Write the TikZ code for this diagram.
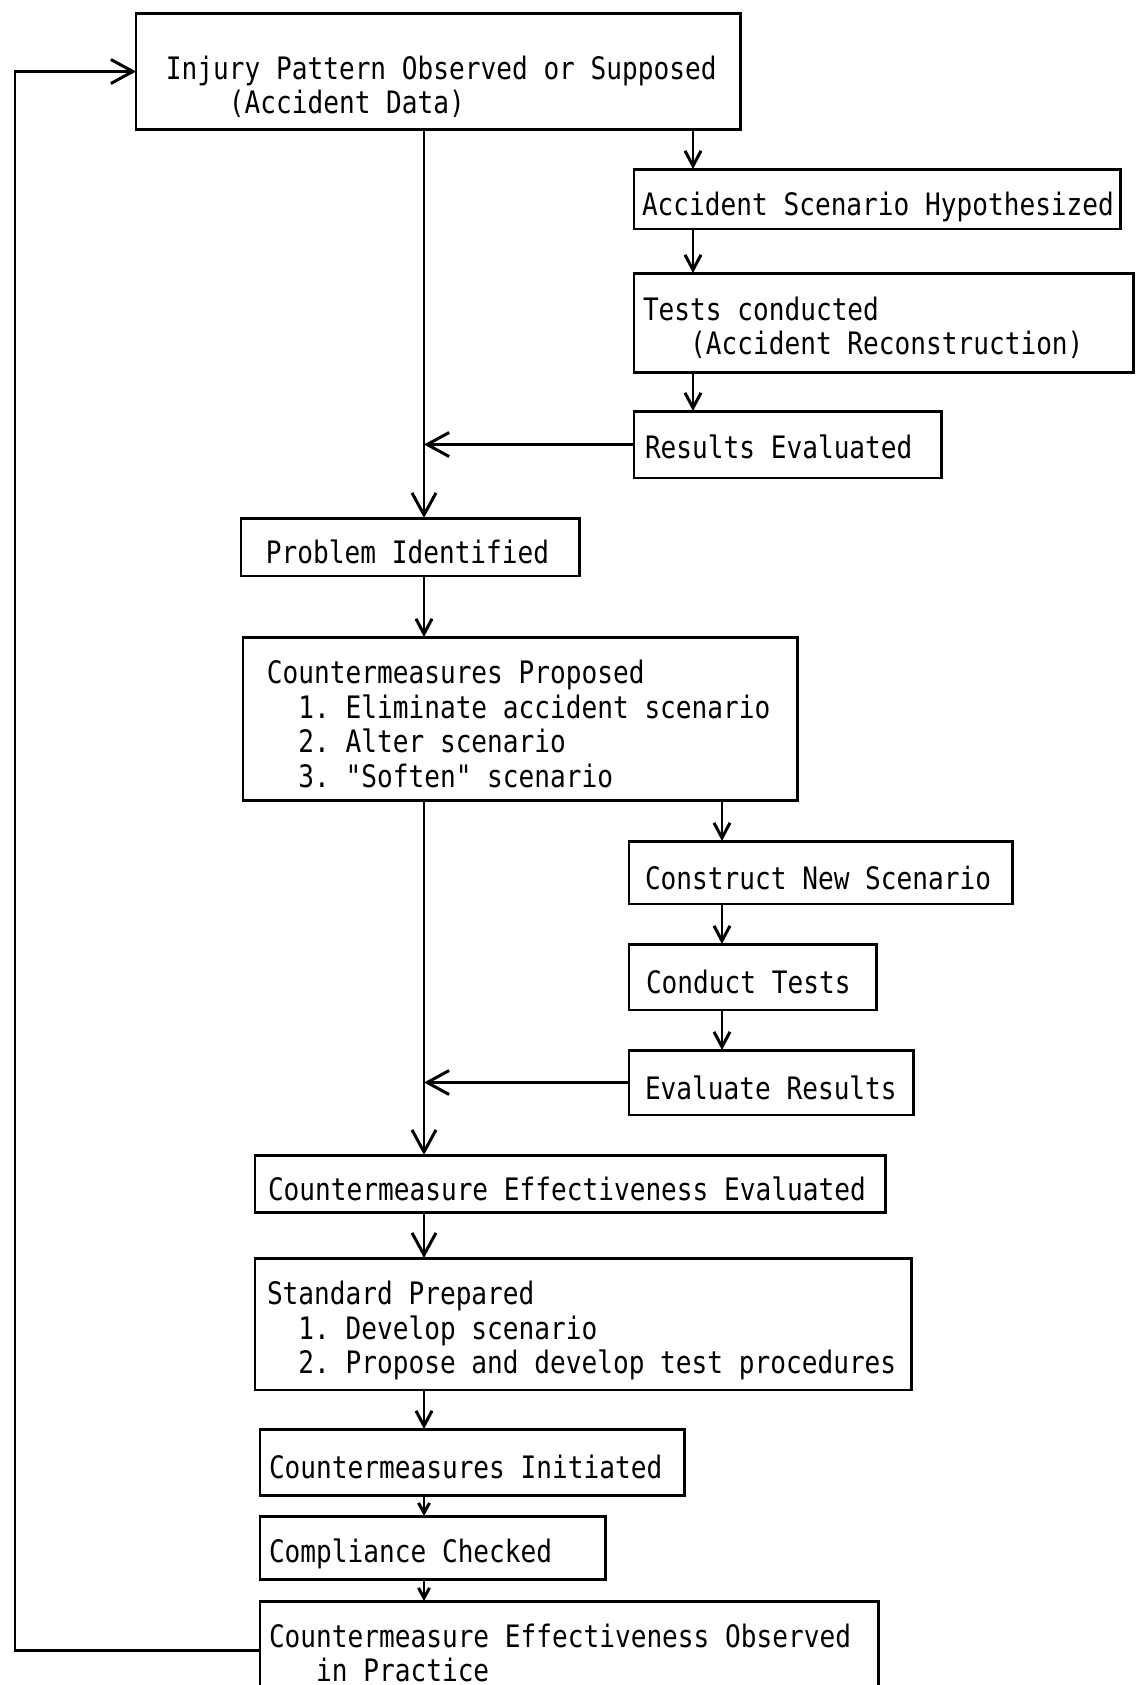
\documentclass[tikz,border=0pt]{standalone}
\usepackage{fontspec}
\usepackage{tikz}
\usetikzlibrary{arrows.meta}
\newfontfamily\tyfont[FakeStretch=0.845]{DejaVu Sans Mono}

\begin{document}
\begin{tikzpicture}[x=0.02cm,y=-0.02cm,
  textdrop/.store in=\stagedrop,
  stage/.style={draw, line width=1.7pt, anchor=north west, align=left,
    inner ysep=0pt, outer sep=0pt, textdrop=19.1pt,
    font={\tyfont\fontsize{17.6}{19.6}\selectfont},
    execute at begin node={\spaceskip\fontcharwd\font`0\relax
      \xspaceskip\spaceskip\hbadness10000\hfuzz50pt\rule{0pt}{\stagedrop}}},
  arrowbig/.style={line width=1.7pt, -{Straight Barb[length=0.44cm,width=0.48cm]}},
  arrowsmall/.style={line width=1.7pt, -{Straight Barb[length=0.3cm,width=0.32cm]}},
  arrowtiny/.style={line width=1.7pt, -{Straight Barb[length=0.2cm,width=0.22cm]}}]
  \clip (0,0) rectangle (1144,1685);
  \coordinate (spine) at (424,0);
  \coordinate (branchA) at (693,0);
  \coordinate (branchB) at (722,0);
  \coordinate (loop) at (15,0);

  % boxes
  \node[stage, text width=10.90cm, inner xsep=0.60cm, minimum height=2.34cm, textdrop=30.5pt] (inj) at (136,13)
    {\mbox{Injury Pattern Observed or Supposed}\\\phantom{0000}(Accident Data)};
  \node[stage, text width=9.42cm, inner xsep=0.16cm, minimum height=1.20cm, textdrop=21.9pt] (hyp) at (634,169)
    {\mbox{Accident Scenario Hypothesized}};
  \node[stage, text width=9.64cm, inner xsep=0.18cm, minimum height=2.00cm] (tests) at (634,273)
    {Tests conducted\\\phantom{000}(Accident Reconstruction)};
  \node[stage, text width=5.72cm, inner xsep=0.22cm, minimum height=1.34cm, textdrop=16.2pt] (results) at (634,411)
    {Results Evaluated};
  \node[stage, text width=5.78cm, inner xsep=0.50cm, minimum height=1.16cm] (problem) at (241,518)
    {Problem Identified};
  \node[stage, text width=10.14cm, inner xsep=0.48cm, minimum height=3.28cm] (proposed) at (243,637)
    {Countermeasures Proposed\\\phantom{00}\mbox{1. Eliminate accident scenario}\\\phantom{00}2. Alter scenario\\\phantom{00}3. "Soften" scenario};
  \node[stage, text width=7.04cm, inner xsep=0.32cm, minimum height=1.26cm] (construct) at (629,841)
    {Construct New Scenario};
  \node[stage, text width=4.28cm, inner xsep=0.34cm, minimum height=1.32cm] (conduct) at (629,944)
    {Conduct Tests};
  \node[stage, text width=5.06cm, inner xsep=0.32cm, minimum height=1.30cm] (evaluate) at (629,1050)
    {Evaluate Results};
  \node[stage, text width=12.10cm, inner xsep=0.26cm, minimum height=1.14cm] (cmeval) at (255,1155)
    {\mbox{Countermeasure Effectiveness Evaluated}};
  \node[stage, text width=12.66cm, inner xsep=0.24cm, minimum height=2.64cm, textdrop=20.8pt] (standard) at (255,1258)
    {Standard Prepared\\\phantom{00}1. Develop scenario\\\phantom{00}\mbox{2. Propose and develop test procedures}};
  \node[stage, text width=8.14cm, inner xsep=0.18cm, minimum height=1.32cm] (initiated) at (260,1429)
    {Countermeasures Initiated};
  \node[stage, text width=6.56cm, inner xsep=0.18cm, minimum height=1.26cm, textdrop=20.8pt] (compliance) at (260,1516)
    {Compliance Checked};
  \node[stage, text width=12.02cm, inner xsep=0.18cm, minimum height=1.98cm, textdrop=16pt] (observed) at (260,1601)
    {\mbox{Countermeasure Effectiveness Observed}\\\phantom{000}in Practice};

  % main line
  \draw[arrowbig] (inj.south -| spine) -- (problem.north -| spine);
  \draw[arrowsmall] (problem.south -| spine) -- (proposed.north -| spine);
  \draw[arrowbig] (proposed.south -| spine) -- (cmeval.north -| spine);
  \draw[arrowbig] (cmeval.south -| spine) -- (standard.north -| spine);
  \draw[arrowsmall] (standard.south -| spine) -- (initiated.north -| spine);
  \draw[arrowtiny] (initiated.south -| spine) -- (compliance.north -| spine);
  \draw[arrowtiny] (compliance.south -| spine) -- (observed.north -| spine);

  % reconstruction branch
  \draw[arrowsmall] (inj.south -| branchA) -- (hyp.north -| branchA);
  \draw[arrowsmall] (hyp.south -| branchA) -- (tests.north -| branchA);
  \draw[arrowsmall] (tests.south -| branchA) -- (results.north -| branchA);
  \draw[arrowbig] (results.west) -- (results.west -| spine);

  % new scenario branch
  \draw[arrowsmall] (proposed.south -| branchB) -- (construct.north -| branchB);
  \draw[arrowsmall] (construct.south -| branchB) -- (conduct.north -| branchB);
  \draw[arrowsmall] (conduct.south -| branchB) -- (evaluate.north -| branchB);
  \draw[arrowbig] (evaluate.west) -- (evaluate.west -| spine);

  % feedback
  \draw[arrowbig] (observed.west) -| (loop |- inj.west) -- (inj.west);
\end{tikzpicture}
\end{document}
